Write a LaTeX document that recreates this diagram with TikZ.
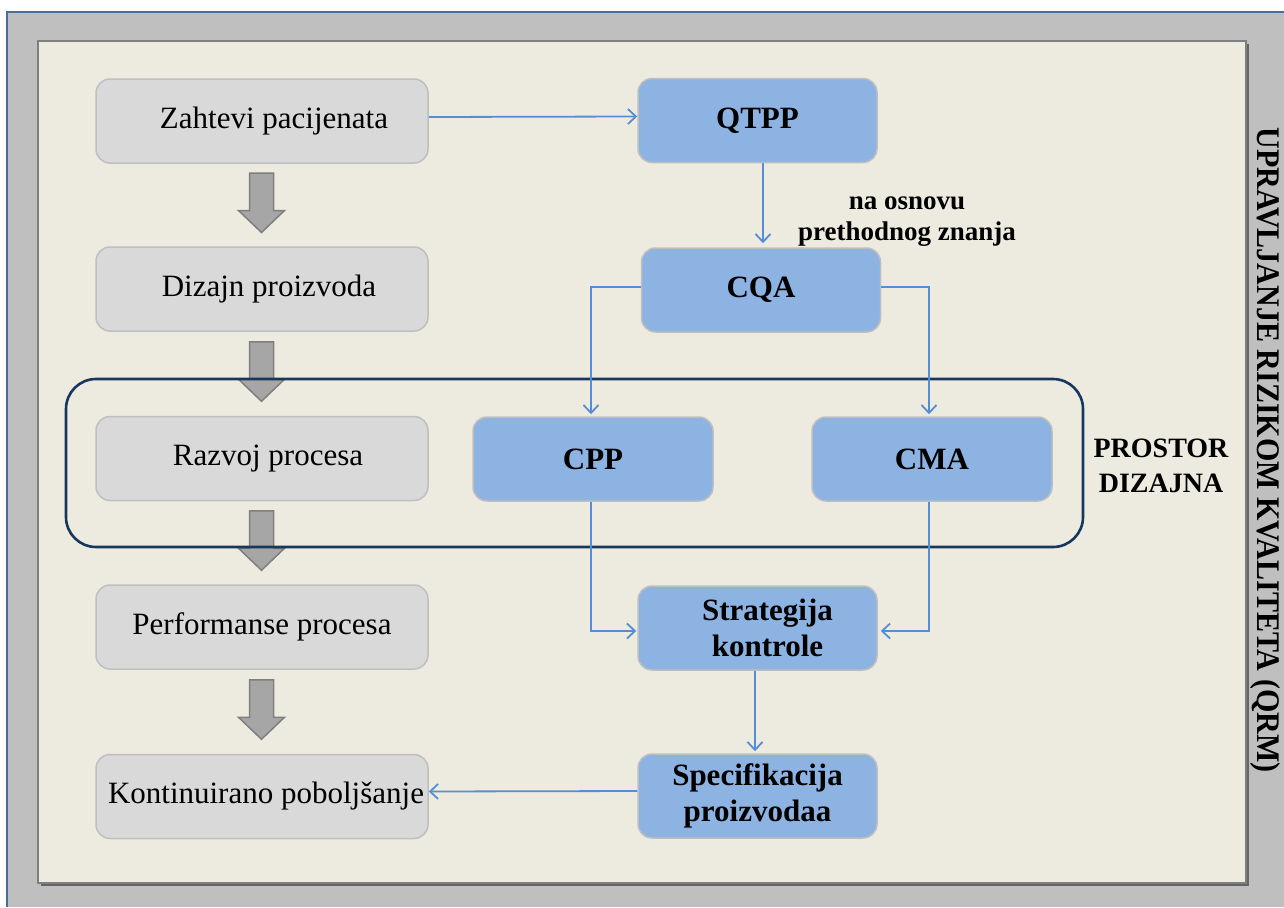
\documentclass[tikz,border=0pt]{standalone}
\usepackage{fontspec}
\usepackage{graphicx}
\setmainfont{Liberation Serif}
\usetikzlibrary{arrows.meta,calc}

\definecolor{outergray}{HTML}{BFBFBF}
\definecolor{outerblue}{HTML}{4A6B9C}
\definecolor{panelfill}{HTML}{EDEBE0}
\definecolor{paneledge}{HTML}{7F7F7F}
\definecolor{greyfill}{HTML}{D9D9D9}
\definecolor{boxedge}{HTML}{BFBFBF}
\definecolor{bluefill}{HTML}{8DB3E2}
\definecolor{flowblue}{HTML}{558ED5}
\definecolor{navy}{HTML}{17375E}
\definecolor{arrowfill}{HTML}{A6A6A6}
\definecolor{arrowedge}{HTML}{7F7F7F}

\tikzset{
  stagebox/.style={draw=boxedge, line width=1.5pt, fill=greyfill, rounded corners=14pt,
    minimum width=332pt, minimum height=84pt, inner sep=0pt,
    font=\fontsize{31}{36}\selectfont},
  qbdbox/.style={draw=boxedge, line width=1.5pt, fill=bluefill, rounded corners=14pt,
    minimum width=239pt, minimum height=84pt, inner sep=0pt, align=center,
    font=\fontsize{31}{36}\bfseries\selectfont},
  flow/.style={draw=flowblue, line width=1.8pt, -{Straight Barb[length=8pt,width=15pt]}},
  bigarrow/.style={draw=arrowedge, line width=1.5pt, fill=arrowfill, line join=miter},
  spaceframe/.style={draw=navy, line width=2.6pt, rounded corners=30pt,
    minimum width=1017pt, minimum height=168pt, inner sep=0pt}
}

\begin{document}
\begin{tikzpicture}[x=1pt,y=-1pt]
\useasboundingbox (0,0) rectangle (1284,907);

% outer frame
\fill[outergray] (7,12) rectangle (1284,907);
\draw[outerblue, line width=2.5pt] (7,907) -- (7,12) -- (1284,12);

% inner panel with its shadow
\fill[paneledge!80!black] (41,44) rectangle (1249,886);
\draw[paneledge, line width=2.5pt, fill=panelfill] (38,41) rectangle (1246,883);

% left column: stages
\node[stagebox] (z) at (262,121) {\hspace*{24pt}Zahtevi pacijenata};
\node[stagebox] (d) at (262,289) {\hspace*{14pt}Dizajn proizvoda};
\node[stagebox] (r) at (262,458.5) {\hspace*{12pt}Razvoj procesa};
\node[stagebox] (p) at (262,627) {Performanse procesa};
\node[stagebox] (k) at (262,796.5) {\hspace*{8pt}Kontinuirano poboljšanje};

% block arrows between stages
\foreach \a/\b in {z/d,d/r,r/p,p/k}{
  \path ($(\a.south)!0.5!(\b.north)$) coordinate (m);
  \draw[bigarrow] ($(m)+(-12.5,-32)$) -- ++(24,0) -- ++(0,37.5) -- ++(11,0)
    -- ($(m)+(-0.5,27.5)$) -- ($(m)+(-23.5,5.5)$) -- ++(11,0) -- cycle;
}

% design space frame
\node[spaceframe] (ds) at (574.5,463) {};
\node[font=\fontsize{28}{35}\bfseries\selectfont, align=center, inner sep=0pt] (dslabel) at (1161,466)
  {PROSTOR\\DIZAJNA};

% right column: QbD elements
\node[qbdbox] (qtpp) at (757.5,120.5) {QTPP};
\node[qbdbox] (cqa) at (761,290) {CQA};
\node[qbdbox, minimum width=240pt] (cpp) at (593,459) {CPP};
\node[qbdbox, minimum width=240pt] (cma) at (932,459) {CMA};
\node[qbdbox] (strat) at (757.5,628) {\hspace*{20pt}Strategija\\\hspace*{20pt}kontrole};
\node[qbdbox] (spec) at (757.5,796) {Specifikacija\\proizvodaa};

\node[font=\fontsize{27}{31}\bfseries\selectfont, align=center] (know) at (907,222)
  {na osnovu\\prethodnog znanja};

% connectors
\draw[flow] ([yshift=4pt]z.east) -- ([yshift=4pt]qtpp.west);
\draw[flow, shorten >=4pt] ([xshift=5.5pt]qtpp.south) -- ([xshift=5.5pt]qtpp.south |- cqa.north);
\draw[flow, shorten >=2pt] ([yshift=3pt]cqa.west) -| ([xshift=-2pt]cpp.north);
\draw[flow, shorten >=2pt] ([yshift=3pt]cqa.east) -| ([xshift=-3pt]cma.north);
\draw[flow, shorten >=1pt] ([xshift=-2pt]cpp.south) |- ([yshift=-3pt]strat.west);
\draw[flow, shorten >=3pt] ([xshift=-3pt]cma.south) |- ([yshift=-3pt]strat.east);
\draw[flow, shorten >=2pt] ([xshift=-2.5pt]strat.south) -- ([xshift=-2.5pt]spec.north);
\draw[flow] ([yshift=5pt]spec.west) -- ([yshift=5pt]k.east);

% risk management band
\node[rotate=-90, inner sep=0pt, font=\fontsize{33}{33}\bfseries\selectfont] (qrm) at (1265,450)
  {\resizebox{645pt}{\height}{UPRAVLJANJE RIZIKOM KVALITETA (QRM)}};
\end{tikzpicture}
\end{document}
